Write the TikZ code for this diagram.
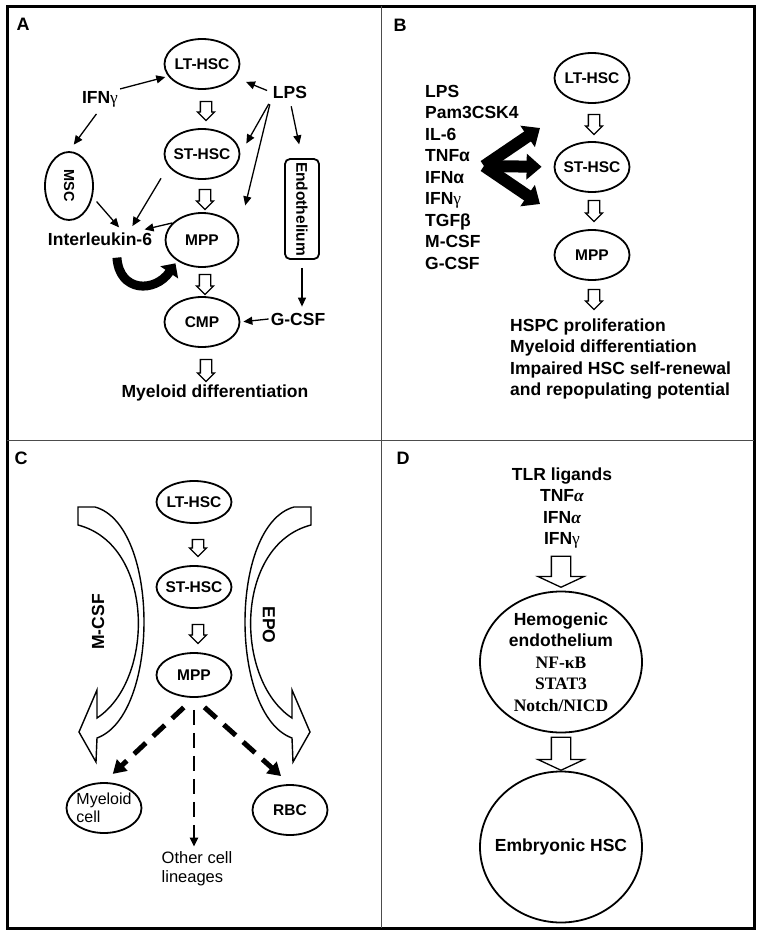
\documentclass[tikz,border=0pt]{standalone}
\usepackage{fontspec}
\setmainfont{Liberation Sans}
\newfontfamily\grk{Liberation Serif}
\usepackage{graphicx}
\usepackage{tikz}
\usetikzlibrary{arrows.meta,shapes.geometric,shapes.arrows,positioning,calc}

\begin{document}
\begin{tikzpicture}[x=1pt,y=-1pt,
    cell/.style={ellipse,draw,line width=1.8pt,minimum width=75pt,minimum height=50pt,inner sep=-6pt,font=\fontsize{15.5}{18}\selectfont\bfseries},
    bigcell/.style={ellipse,draw,line width=1.8pt,minimum width=162pt,inner xsep=-12pt,inner ysep=-4pt,align=center,font=\fontsize{17.5}{21.5}\selectfont\bfseries},
    lbl/.style={inner sep=2pt,font=\fontsize{17.5}{21.5}\selectfont\bfseries},
    panel/.style={inner sep=0pt,font=\fontsize{18}{20}\selectfont\bfseries},
    arr/.style={line width=1.3pt,-{Triangle[length=9pt,width=8pt]}},
    hollow/.style={single arrow,draw,line width=1.3pt,fill=white,rotate=-90,anchor=tail,minimum height=19pt,minimum width=16pt,single arrow head extend=3pt,inner xsep=0pt,inner ysep=5pt},
    bighollow/.style={hollow,minimum height=31pt,minimum width=45pt,inner ysep=9pt,single arrow head extend=13.5pt,single arrow tip angle=130},
    fat/.style={line width=12pt,-{Triangle[length=15pt,width=25pt]}},
    loopy/.style={line width=9pt,-{Triangle[length=11pt,width=21pt]}},
    bigdash/.style={line width=5pt,dash pattern=on 16pt off 10pt,-{Triangle[length=13pt,width=15pt]}},
    thindash/.style={line width=2.2pt,dash pattern=on 15pt off 8pt,-{Triangle[length=9pt,width=8pt]}},
    curved/.style={draw,line width=1.4pt,fill=white,line join=miter}]
\useasboundingbox (0,0) rectangle (761,935);
\draw[line width=3pt] (7,6) rectangle (754,928);
\draw[line width=1.3pt,black!70] (381.5,6) -- (381.5,928) (7,440.5) -- (754,440.5);

% A
\node[panel] (labA) at (23,24) {A};
\node[cell] (ltA) at (202,64) {LT-HSC};
\node[cell] (stA) at (202,154) {ST-HSC};
\node[cell,minimum width=73pt,minimum height=54pt] (mppA) at (202,240) {MPP};
\node[cell] (cmpA) at (202,322) {CMP};
\node[lbl] (myelA) at (215,393) {Myeloid differentiation};
\node[lbl] (ifng) at (100,99) {IFN{\grk\mdseries γ}};
\node[lbl] (lps) at (290,92) {LPS};
\node[cell,minimum width=48pt,minimum height=68pt,font=\fontsize{14.5}{16}\selectfont\bfseries] (msc) at (69,186) {\rotatebox{-90}{MSC}};
\node[draw,line width=1.8pt,rounded corners=5pt,minimum width=34pt,minimum height=100pt,inner sep=2pt,font=\fontsize{15.5}{18}\selectfont\bfseries] (endo) at (302,209) {\rotatebox{-90}{Endothelium}};
\node[lbl] (il6) at (100,239) {Interleukin-6};
\node[lbl] (gcsf) at (298,319) {G-CSF};

\node[hollow] (a1) at ($(ltA.south)+(4,11)$) {};
\node[hollow,minimum height=20pt] (a2) at ($(stA.south)+(3,9)$) {};
\node[hollow,minimum height=20pt] (a3) at ($(mppA.south)+(3,6)$) {};
\node[hollow,minimum height=22pt] (a4) at ($(cmpA.south)+(4,11)$) {};

\draw[arr,shorten >=3pt] (ifng.north east) -- (ltA.200);
\draw[arr,shorten <=6pt,shorten >=8pt] (ifng.south) -- (msc.north);
\draw[arr,shorten <=4pt,shorten >=12pt] (lps.west) -- (ltA);
\draw[arr,shorten <=4pt,shorten >=12pt] (lps.south west) -- (stA.east);
\draw[arr,shorten <=4pt,shorten >=29pt] (lps.south west) -- (mppA.10);
\draw[arr,shorten <=6pt,shorten >=14pt] (lps.south) -- (endo.north);
\draw[arr,shorten <=6pt,shorten >=4pt] (msc.-25) -- ($(il6.north)!.4!(il6.north east)$);
\draw[arr,shorten <=14pt,shorten >=5pt] (stA.200) -- ($(il6.north)!.55!(il6.north east)$);
\draw[arr,shorten >=4pt] (mppA.150) -- ($(il6.north)!.75!(il6.north east)$);
\draw[arr,shorten <=8pt,shorten >=4pt] (endo.south) -- (endo.south |- gcsf.north);
\draw[arr,shorten >=3pt] (gcsf.west) -- (cmpA.east);
\draw[loopy,shorten <=10pt,shorten >=3pt] ($(il6.south)!.3!(il6.south east)$) .. controls +(3,45) and +(-22,32) .. (mppA.220);

% B
\node[panel] (labB) at (400,25) {B};
\node[cell] (ltB) at (592,78) {LT-HSC};
\node[cell] (stB) at (592,167) {ST-HSC};
\node[cell] (mppB) at (592,255) {MPP};
\node[lbl,align=left,anchor=west] (cytok) at (423,177) {LPS\\Pam3CSK4\\IL-6\\TNFα\\IFNα\\IFN{\grk\mdseries γ}\\TGFβ\\M-CSF\\G-CSF};
\node[lbl,align=left,anchor=west] (effects) at (508,359) {HSPC proliferation\\Myeloid differentiation\\Impaired HSC self-renewal\\and repopulating potential};

\node[hollow,minimum height=20pt] (b1) at ($(ltB.south)+(2,10)$) {};
\node[hollow,minimum height=21pt] (b2) at ($(stB.south)+(2,7)$) {};
\node[hollow,minimum height=20pt] (b3) at ($(mppB.south)+(2,8)$) {};

\coordinate (fan) at (484,166);
\draw[fat] (fan) -- ++(56,-38);
\draw[fat] (fan) -- ++(56,38);
\draw[fat,shorten >=12pt] (fan) -- (stB.west);

% C
\node[panel] (labC) at (21,458) {C};
\node[cell,minimum height=42pt] (ltC) at (194,502) {LT-HSC};
\node[cell,minimum height=42pt] (stC) at (194,587) {ST-HSC};
\node[cell,minimum height=44pt] (mppC) at (194,675) {MPP};
\node[cell,align=left,font=\fontsize{16}{18.5}\selectfont] (myelC) at (104,808) {Myeloid\\cell};
\node[cell] (rbc) at (290,810) {RBC};
\node[align=left,inner sep=2pt,font=\fontsize{16.5}{19}\selectfont] (other) at (197,869) {Other cell\\lineages};

\node[hollow,minimum height=17pt] (c1) at ($(ltC.south)+(4,15)$) {};
\node[hollow] (c2) at ($(stC.south)+(4,15)$) {};

\draw[curved] (95,507) .. controls (160,525) and (160,715) .. (97,738) -- (96,762) -- (79,732) -- (97,690) -- (97,718) .. controls (155,680) and (155,545) .. (78,525) -- (78,507) -- cycle;
\draw[curved] (294,507) .. controls (229,525) and (229,715) .. (292,738) -- (293,762) -- (310,732) -- (292,690) -- (292,718) .. controls (234,680) and (234,545) .. (311,525) -- (311,507) -- cycle;
\node[lbl,rotate=90] (mcsf) at (98,622) {M-CSF};
\node[lbl,rotate=-90] (epo) at (269,625) {EPO};

\draw[bigdash,shorten <=14pt,shorten >=12pt] (mppC.south) -- (myelC.north);
\draw[bigdash,shorten <=14pt,shorten >=12pt] (mppC.south) -- (rbc.north);
\draw[thindash,shorten <=12pt,shorten >=3pt] (mppC.south) -- (mppC.south |- other.north);

% D
\node[panel] (labD) at (403,458) {D};
\node[lbl,align=center] (stim) at (562,508) {TLR ligands\\TNF{\grk\itshape α}\\IFN{\grk\itshape α}\\IFN{\grk\mdseries γ}};
\node[bigcell,minimum height=141pt] (hemo) at (561,662) {Hemogenic\\endothelium\\{\grk NF-κB}\\{\grk STAT3}\\{\grk Notch/NICD}};
\node[bigcell,minimum height=151pt] (emb) at (561,847) {Embryonic HSC};
\node[bighollow] (d1) at ($(hemo.north)+(0,-35)$) {};
\node[bighollow,minimum height=33pt] (d2) at ($(emb.north)+(0,-34)$) {};
\end{tikzpicture}
\end{document}
